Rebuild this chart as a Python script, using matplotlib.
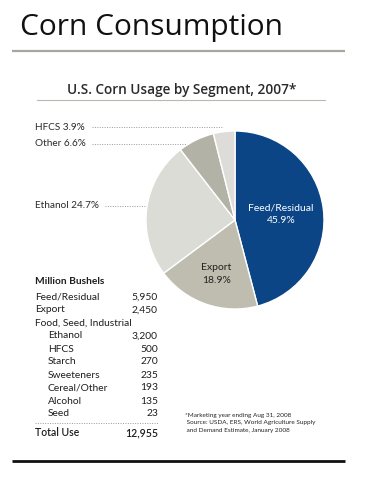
import matplotlib
matplotlib.use("Agg")
import matplotlib.pyplot as plt
import numpy as np

# ---- data ----
pie_labels = ["Feed/Residual", "Export", "Ethanol", "Other", "HFCS"]
pie_shares = [45.9, 18.9, 24.7, 6.6, 3.9]
pie_colors = ["#0b4586", "#bebdb0", "#dcdcd6", "#b3b2a6", "#dddcd8"]

table_labels = ["Feed/Residual", "Export", "Food, Seed, Industrial", "Ethanol", "HFCS",
                "Starch", "Sweeteners", "Cereal/Other", "Alcohol", "Seed"]
table_values = ["5,950", "2,450", "", "3,200", "500", "270", "235", "193", "135", "23"]
table_indent = [False, False, False, True, True, True, True, True, True, True]
total_label = "Total Use"
total_value = "12,955"

title = "Corn Consumption"
subtitle = "U.S. Corn Usage by Segment, 2007*"
footnote = ["*Marketing year ending Aug 31, 2008",
            " Source: USDA, ERS, World Agriculture Supply",
            " and Demand Estimate, January 2008"]

W, H = 367, 478
fig = plt.figure(figsize=(W / 100, H / 100), dpi=100)
fig.patch.set_facecolor("white")
FONT = "Lato"
HEAD = "Open Sans"

# overlay axes in pixel coordinates
ov = fig.add_axes([0, 0, 1, 1])
ov.set_xlim(0, W)
ov.set_ylim(H, 0)
ov.axis("off")

ov.text(20, 35, title, fontsize=21.5, family=HEAD, fontweight="medium", color="#111111",
        va="baseline", ha="left")
ov.plot([12, 345], [51, 51], color="#a8a79f", lw=1.6, solid_capstyle="butt")
ov.text(182, 90, subtitle, fontsize=9.8, family=HEAD, fontweight="semibold", color="#2a2a2a",
        ha="center", va="center")
ov.plot([37, 325], [100, 100], color="#b8b8b0", lw=0.8)

# pie
cx, cy, r = 235, 220, 89
pax = fig.add_axes([(cx - r) / W, (H - cy - r) / H, 2 * r / W, 2 * r / H])
wedges, _ = pax.pie(pie_shares, colors=pie_colors, startangle=90, counterclock=False,
                    wedgeprops=dict(edgecolor="white", linewidth=1.0))
pax.set_xlim(-1, 1)
pax.set_ylim(-1, 1)
pax.set_aspect("equal")
pax.axis("off")

def in_label(i, rad, lines, color):
    w = wedges[i]
    ang = np.deg2rad((w.theta1 + w.theta2) / 2)
    x, y = rad * np.cos(ang), rad * np.sin(ang)
    pax.text(x, y, lines, ha="center", va="center", fontsize=7.5, family=FONT,
             color=color, linespacing=1.5)

in_label(0, 0.52, f"{pie_labels[0]}\n{pie_shares[0]}%", "white")
in_label(1, 0.64, f"{pie_labels[1]}\n{pie_shares[1]}%", "#222222")

# outside labels with dotted leaders
outs = [(4, 127, 92, 222), (3, 144, 92, 187), (2, 206, 105, 147)]
for i, y, x0, x1 in outs:
    ov.text(35, y, f"{pie_labels[i]} {pie_shares[i]}%", fontsize=7.2, family=FONT,
            color="#2a2a2a", ha="left", va="center")
    ov.plot([x0, x1], [y, y], color="#999999", lw=0.7, ls=(0, (1, 1.5)))

# table
ov.text(35, 282, "Million Bushels", fontsize=7.3, family=FONT, fontweight="bold",
        color="#1e1e1e", ha="left", va="center")
y = 297
for lab, val, ind in zip(table_labels, table_values, table_indent):
    ov.text(48 if ind else 35, y, lab, fontsize=7.4, family=FONT, color="#1e1e1e",
            ha="left", va="center")
    if val:
        ov.text(158, y, val, fontsize=7.4, family=FONT, color="#1e1e1e", ha="right", va="center")
    y += 13
ov.plot([35, 158], [423, 423], color="#999999", lw=0.7, ls=(0, (1, 1.5)))
ov.text(35, 433, total_label, fontsize=7.6, family=FONT, fontweight="semibold", color="#1e1e1e",
        ha="left", va="center")
ov.text(158, 433, total_value, fontsize=7.6, family=FONT, fontweight="semibold", color="#1e1e1e",
        ha="right", va="center")

# footnote
for k, line in enumerate(footnote):
    ov.text(185, 415 + k * 7.6, line, fontsize=4.6, family=FONT, color="#222222",
            ha="left", va="center")

ov.plot([12, 345], [461, 461], color="#111111", lw=2.0, solid_capstyle="butt")

fig.savefig("out.png", dpi=100, facecolor="white")
